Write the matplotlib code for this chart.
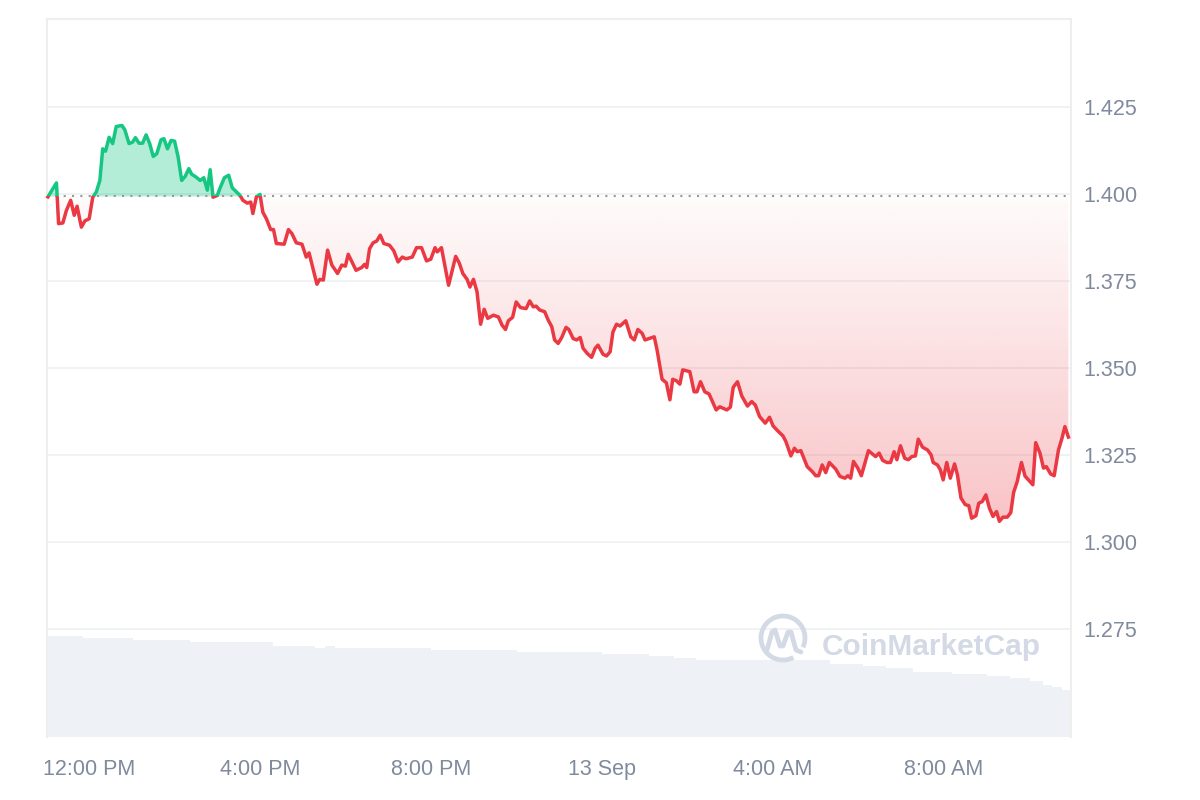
"""
Price chart (24h) with volume strip, CoinMarketCap style.
"""
import numpy as np
import matplotlib
matplotlib.use('Agg')
import matplotlib.pyplot as plt
from matplotlib.patches import Rectangle, Arc
from matplotlib.path import Path
from matplotlib.colors import to_rgb

# ── Style ─────────────────────────────────────────────────────────────────────
plt.rcParams.update({
    'figure.facecolor': 'white',
    'axes.facecolor':   'white',
    'font.family':      'Liberation Sans',
    'font.size':        15.5,
})

GREEN  = '#16c784'
RED    = '#ea3943'
LABEL  = '#808a9d'
GRID   = '#eff1f3'
VOL    = '#eef1f5'
WMARK  = '#d3d9e5'

# ── Data ──────────────────────────────────────────────────────────────────────
# minutes after 11:00 AM (12 Sep)
minutes = [
    2, 14, 17, 23, 28, 34, 39, 43, 49, 54,
    60, 65, 70, 75, 79, 83, 88, 93, 98, 106,
    110, 116, 121, 125, 130, 135, 140, 145, 150, 155,
    161, 165, 170, 175, 180, 185, 190, 195, 200, 204,
    210, 216, 221, 226, 230, 234, 240, 244, 250, 256,
    261, 267, 272, 276, 282, 287, 290, 295, 300, 304,
    309, 315, 319, 323, 334, 340, 345, 351, 359, 365,
    369, 380, 384, 389, 395, 401, 409, 415, 420, 424,
    435, 443, 447, 450, 454, 459, 464, 469, 474, 482,
    488, 494, 500, 505, 514, 520, 527, 534, 540, 546,
    549, 555, 565, 575, 580, 585, 591, 595, 600, 605,
    610, 615, 620, 628, 635, 640, 645, 649, 655, 660,
    666, 674, 679, 684, 688, 693, 700, 705, 710, 714,
    719, 724, 730, 734, 740, 745, 750, 754, 760, 766,
    771, 775, 782, 787, 792, 796, 801, 806, 814, 821,
    826, 831, 837, 841, 854, 858, 865, 871, 876, 880,
    885, 890, 894, 904, 910, 914, 919, 925, 931, 941,
    946, 956, 961, 965, 971, 977, 985, 991, 996, 1002,
    1010, 1016, 1021, 1027, 1035, 1039, 1046, 1051, 1055, 1060,
    1069, 1076, 1081, 1085, 1090, 1095, 1100, 1109, 1115, 1122,
    1126, 1130, 1134, 1140, 1145, 1155, 1162, 1165, 1170, 1175,
    1181, 1186, 1191, 1195, 1200, 1206, 1211, 1216, 1221, 1225,
    1231, 1238, 1243, 1246, 1252, 1256, 1260, 1265, 1270, 1276,
    1280, 1285, 1291, 1296, 1300, 1306, 1310, 1315, 1320, 1325,
    1330, 1335, 1339, 1344, 1350, 1355, 1359, 1364, 1370, 1375,
    1379, 1386, 1390, 1396, 1401, 1405, 1411, 1416, 1422, 1427,
    1431, 1436,
]
price = [
    1.3992, 1.4032, 1.3915, 1.3917, 1.3953, 1.3982, 1.3939, 1.3965, 1.3905, 1.3923,
    1.3929, 1.3991, 1.4006, 1.4039, 1.4130, 1.4123, 1.4163, 1.4145, 1.4194, 1.4197,
    1.4185, 1.4145, 1.4149, 1.4162, 1.4146, 1.4146, 1.4170, 1.4145, 1.4108, 1.4116,
    1.4156, 1.4159, 1.4130, 1.4154, 1.4152, 1.4106, 1.4039, 1.4051, 1.4073, 1.4057,
    1.4049, 1.4039, 1.4047, 1.4011, 1.4070, 1.3991, 1.3996, 1.4018, 1.4047, 1.4054,
    1.4018, 1.4006, 1.3996, 1.3982, 1.3974, 1.3977, 1.3944, 1.3992, 1.3999, 1.3948,
    1.3929, 1.3898, 1.3898, 1.3858, 1.3856, 1.3898, 1.3886, 1.3860, 1.3856, 1.3819,
    1.3831, 1.3741, 1.3755, 1.3753, 1.3839, 1.3796, 1.3772, 1.3796, 1.3793, 1.3827,
    1.3781, 1.3789, 1.3798, 1.3789, 1.3843, 1.3860, 1.3865, 1.3882, 1.3858, 1.3853,
    1.3837, 1.3805, 1.3819, 1.3814, 1.3819, 1.3846, 1.3846, 1.3808, 1.3813, 1.3846,
    1.3834, 1.3846, 1.3738, 1.3821, 1.3802, 1.3772, 1.3755, 1.3733, 1.3755, 1.3719,
    1.3626, 1.3669, 1.3643, 1.3652, 1.3647, 1.3624, 1.3611, 1.3636, 1.3646, 1.3690,
    1.3674, 1.3671, 1.3693, 1.3676, 1.3678, 1.3667, 1.3662, 1.3638, 1.3619, 1.3581,
    1.3571, 1.3588, 1.3617, 1.3611, 1.3585, 1.3581, 1.3588, 1.3557, 1.3542, 1.3531,
    1.3557, 1.3566, 1.3540, 1.3535, 1.3547, 1.3604, 1.3626, 1.3621, 1.3636, 1.3590,
    1.3581, 1.3611, 1.3600, 1.3581, 1.3590, 1.3552, 1.3468, 1.3458, 1.3409, 1.3468,
    1.3464, 1.3454, 1.3495, 1.3490, 1.3432, 1.3432, 1.3461, 1.3432, 1.3426, 1.3380,
    1.3389, 1.3380, 1.3388, 1.3445, 1.3461, 1.3420, 1.3391, 1.3404, 1.3394, 1.3361,
    1.3342, 1.3359, 1.3334, 1.3321, 1.3305, 1.3289, 1.3248, 1.3270, 1.3260, 1.3263,
    1.3217, 1.3203, 1.3191, 1.3191, 1.3222, 1.3200, 1.3229, 1.3210, 1.3189, 1.3184,
    1.3191, 1.3184, 1.3232, 1.3213, 1.3191, 1.3263, 1.3251, 1.3246, 1.3256, 1.3235,
    1.3229, 1.3229, 1.3260, 1.3237, 1.3277, 1.3241, 1.3237, 1.3246, 1.3248, 1.3296,
    1.3273, 1.3265, 1.3251, 1.3229, 1.3222, 1.3208, 1.3179, 1.3229, 1.3184, 1.3225,
    1.3194, 1.3127, 1.3108, 1.3105, 1.3069, 1.3076, 1.3112, 1.3117, 1.3136, 1.3098,
    1.3074, 1.3088, 1.3060, 1.3072, 1.3072, 1.3085, 1.3143, 1.3174, 1.3229, 1.3190,
    1.3181, 1.3165, 1.3286, 1.3256, 1.3213, 1.3217, 1.3196, 1.3191, 1.3265, 1.3299,
    1.3332, 1.3302,
]
open_price = 1.3993

# volume: step boundaries (minutes after 11:00 AM) and relative level per step
vol_edges = [0, 51, 121, 201, 318, 378, 392, 406, 541, 661, 781, 846, 882,
             913, 1101, 1148, 1179, 1218, 1272, 1321, 1354, 1382, 1400, 1413,
             1427, 1440]
vol_level = [101, 98.7, 96.7, 94.7, 91, 88.7, 90.7, 88.7, 86.7, 84.7, 82.7,
             80.7, 78.7, 77, 73, 71, 68.7, 65.3, 63, 61, 58.7, 56, 52, 49.7, 47]

tick_minutes = [60, 300, 540, 780, 1020, 1260]
tick_labels  = ['12:00 PM', '4:00 PM', '8:00 PM', '13 Sep', '4:00 AM', '8:00 AM']
price_ticks  = [1.275, 1.300, 1.325, 1.350, 1.375, 1.400, 1.425]

t = np.array(minutes, dtype=float)
p = np.array(price)

# ── Figure ────────────────────────────────────────────────────────────────────
fig = plt.figure(figsize=(12, 8), dpi=100)
rect = [46.7 / 1200, 63 / 800, 1024 / 1200, 718.5 / 800]
ax_vol = fig.add_axes(rect)
ax = fig.add_axes(rect, sharex=ax_vol)
ax.set_facecolor('none')

# volume strip
ax_vol.bar(vol_edges[:-1], vol_level, width=np.diff(vol_edges), align='edge',
           color=VOL, linewidth=0)
ax_vol.set_ylim(0, max(vol_level) / 0.1406)
ax_vol.axis('off')

# red gradient area below the open price
red_fill = ax.fill_between(t, p, open_price, where=p <= open_price,
                           interpolate=True, facecolor='none', linewidth=0)
red_path = Path.make_compound_path(*red_fill.get_paths())
grad = np.zeros((256, 1, 4))
grad[..., :3] = to_rgb(RED)
grad[..., 3] = np.linspace(0.30, 0.02, 256)[:, None]
im = ax.imshow(grad, extent=[t.min(), t.max(), p.min(), open_price],
               origin='lower', aspect='auto', zorder=1, interpolation='bilinear')
im.set_clip_path(red_path, transform=ax.transData)

# green area above the open price
ax.fill_between(t, p, open_price, where=p >= open_price, interpolate=True,
                facecolor=GREEN, alpha=0.32, linewidth=0, zorder=1)

ax.axhline(open_price, color='#999999', lw=1.5, ls=(0, (1, 3)), zorder=2)

# price line, coloured by side of the open price
up_clip = Rectangle((-100, open_price), 2000, 1, transform=ax.transData)
dn_clip = Rectangle((-100, open_price - 1), 2000, 1, transform=ax.transData)
ln_dn, = ax.plot(t, p, color=RED, lw=2.5, solid_joinstyle='round', zorder=3)
ln_dn.set_clip_path(dn_clip)
ln_up, = ax.plot(t, p, color=GREEN, lw=2.5, solid_joinstyle='round', zorder=3)
ln_up.set_clip_path(up_clip)

# axes cosmetics
ax.set_xlim(0.3, 1439.2)
ax.set_ylim(1.24406, 1.45042)
ax.set_yticks(price_ticks, [f'{v:.3f}' for v in price_ticks])
ax.set_xticks(tick_minutes, tick_labels)
ax.yaxis.tick_right()
ax.tick_params(axis='y', length=0, pad=9, labelcolor=LABEL, labelsize=15.5)
ax.tick_params(axis='x', length=0, pad=16, labelcolor=LABEL, labelsize=15.5)
ax.grid(axis='y', color=GRID, lw=1.3, zorder=0)
ax.set_axisbelow(True)
for side in ['left', 'right', 'top']:
    ax.spines[side].set_color('#eeeeee')
    ax.spines[side].set_linewidth(1.5)
ax.spines['bottom'].set_visible(False)

# ── Watermark ─────────────────────────────────────────────────────────────────
ax_wm = fig.add_axes([0, 0, 1, 1])
ax_wm.set_xlim(0, 1200)
ax_wm.set_ylim(800, 0)
ax_wm.axis('off')
ax_wm.add_patch(Arc((783, 638), 44, 44, theta1=62, theta2=385,
                    color=WMARK, lw=3.4))
ax_wm.plot([767, 772, 775, 780, 783, 788, 791, 796, 801],
           [650, 632, 630, 646, 646, 632, 632, 650, 652],
           color=WMARK, lw=3.4, solid_joinstyle='round', solid_capstyle='round')
ax_wm.text(822, 655, 'CoinMarketCap', fontsize=21.5, fontweight='bold',
           color=WMARK, ha='left', va='baseline')

plt.savefig('out.png', dpi=100)
plt.close()
print('done')
